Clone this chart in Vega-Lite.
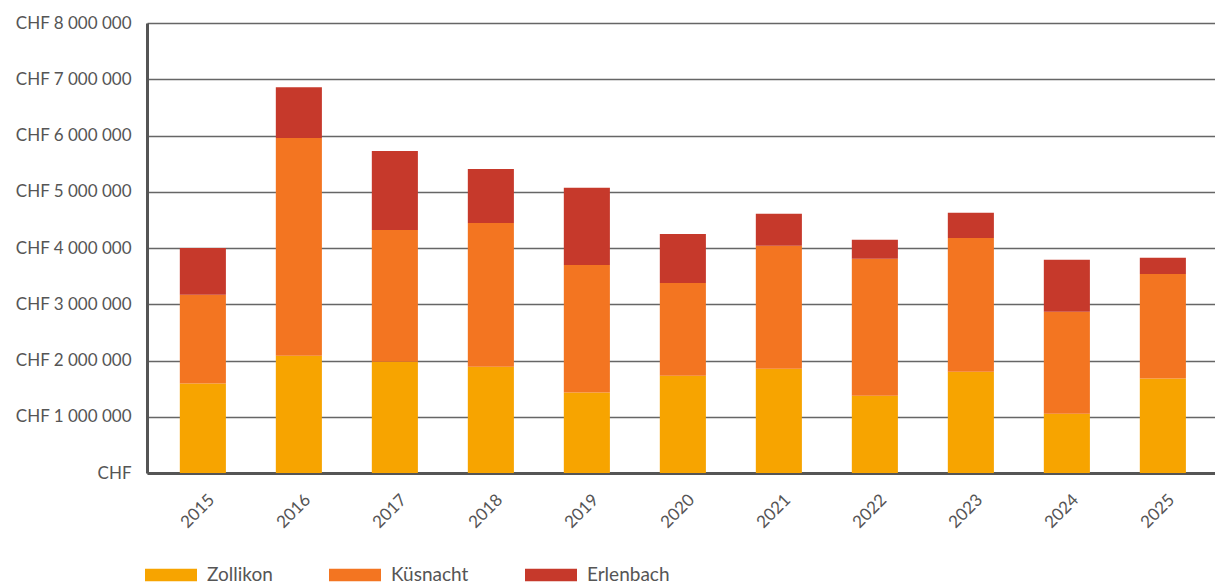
{
  "$schema": "https://vega.github.io/schema/vega-lite/v6.json",
  "width": 1068,
  "height": 450,
  "autosize": {"type": "none"},
  "padding": {"left": 147, "top": 23, "right": 0, "bottom": 113},
  "background": "white",
  "config": {
    "view": {"stroke": null},
    "font": "Lato",
    "axis": {"labelFont": "Lato", "labelColor": "#555555", "titleFont": "Lato"},
    "legend": {"labelFont": "Lato"}
  },
  "data": {
    "values": [
      {"Jahr": "2015", "Gemeinde": "Zollikon", "Betrag": 1590000},
      {"Jahr": "2015", "Gemeinde": "Küsnacht", "Betrag": 1580000},
      {"Jahr": "2015", "Gemeinde": "Erlenbach", "Betrag": 830000},
      {"Jahr": "2016", "Gemeinde": "Zollikon", "Betrag": 2085000},
      {"Jahr": "2016", "Gemeinde": "Küsnacht", "Betrag": 3870000},
      {"Jahr": "2016", "Gemeinde": "Erlenbach", "Betrag": 905000},
      {"Jahr": "2017", "Gemeinde": "Zollikon", "Betrag": 1980000},
      {"Jahr": "2017", "Gemeinde": "Küsnacht", "Betrag": 2340000},
      {"Jahr": "2017", "Gemeinde": "Erlenbach", "Betrag": 1405000},
      {"Jahr": "2018", "Gemeinde": "Zollikon", "Betrag": 1890000},
      {"Jahr": "2018", "Gemeinde": "Küsnacht", "Betrag": 2555000},
      {"Jahr": "2018", "Gemeinde": "Erlenbach", "Betrag": 960000},
      {"Jahr": "2019", "Gemeinde": "Zollikon", "Betrag": 1430000},
      {"Jahr": "2019", "Gemeinde": "Küsnacht", "Betrag": 2270000},
      {"Jahr": "2019", "Gemeinde": "Erlenbach", "Betrag": 1370000},
      {"Jahr": "2020", "Gemeinde": "Zollikon", "Betrag": 1730000},
      {"Jahr": "2020", "Gemeinde": "Küsnacht", "Betrag": 1650000},
      {"Jahr": "2020", "Gemeinde": "Erlenbach", "Betrag": 870000},
      {"Jahr": "2021", "Gemeinde": "Zollikon", "Betrag": 1855000},
      {"Jahr": "2021", "Gemeinde": "Küsnacht", "Betrag": 2185000},
      {"Jahr": "2021", "Gemeinde": "Erlenbach", "Betrag": 570000},
      {"Jahr": "2022", "Gemeinde": "Zollikon", "Betrag": 1375000},
      {"Jahr": "2022", "Gemeinde": "Küsnacht", "Betrag": 2435000},
      {"Jahr": "2022", "Gemeinde": "Erlenbach", "Betrag": 335000},
      {"Jahr": "2023", "Gemeinde": "Zollikon", "Betrag": 1800000},
      {"Jahr": "2023", "Gemeinde": "Küsnacht", "Betrag": 2380000},
      {"Jahr": "2023", "Gemeinde": "Erlenbach", "Betrag": 445000},
      {"Jahr": "2024", "Gemeinde": "Zollikon", "Betrag": 1055000},
      {"Jahr": "2024", "Gemeinde": "Küsnacht", "Betrag": 1810000},
      {"Jahr": "2024", "Gemeinde": "Erlenbach", "Betrag": 925000},
      {"Jahr": "2025", "Gemeinde": "Zollikon", "Betrag": 1680000},
      {"Jahr": "2025", "Gemeinde": "Küsnacht", "Betrag": 1860000},
      {"Jahr": "2025", "Gemeinde": "Erlenbach", "Betrag": 285000}
    ]
  },
  "mark": {"type": "bar"},
  "encoding": {
    "x": {
      "field": "Jahr",
      "type": "ordinal",
      "scale": {"paddingInner": 0.52, "paddingOuter": 0.3225, "align": 0.53},
      "axis": {
        "title": null,
        "ticks": false,
        "domain": true,
        "domainColor": "#555555",
        "domainWidth": 3,
        "labelAngle": -45,
        "labelAlign": "right",
        "labelBaseline": "middle",
        "labelPadding": 24,
        "labelOffset": 9,
        "labelFontSize": 17,
        "labelOverlap": false,
        "grid": false
      }
    },
    "y": {
      "field": "Betrag",
      "type": "quantitative",
      "stack": "zero",
      "scale": {"domain": [0, 8000000], "nice": false},
      "axis": {
        "title": null,
        "values": [0, 1000000, 2000000, 3000000, 4000000, 5000000, 6000000, 7000000, 8000000],
        "ticks": false,
        "domain": true,
        "domainColor": "#555555",
        "domainWidth": 3,
        "grid": true,
        "gridColor": "#666666",
        "gridWidth": 1.3,
        "labelPadding": 16,
        "labelFontSize": 17,
        "labelOverlap": false,
        "labelExpr": "datum.value == 0 ? 'CHF' : 'CHF ' + replace(format(datum.value, ','), /,/g, ' ')"
      }
    },
    "color": {
      "field": "Gemeinde",
      "type": "nominal",
      "scale": {
        "domain": ["Zollikon", "Küsnacht", "Erlenbach"],
        "range": ["#F7A400", "#F37521", "#C6392B"]
      },
      "legend": {
        "title": null,
        "orient": "none",
        "legendX": -2,
        "legendY": 526,
        "direction": "horizontal",
        "symbolType": "M-1,-0.24H1V0.24H-1Z",
        "symbolSize": 2704,
        "symbolStrokeWidth": 0,
        "labelFontSize": 19,
        "labelColor": "#555555",
        "labelOffset": 10,
        "columnPadding": 56
      }
    },
    "order": {"field": "Gemeinde", "sort": "descending"}
  }
}
